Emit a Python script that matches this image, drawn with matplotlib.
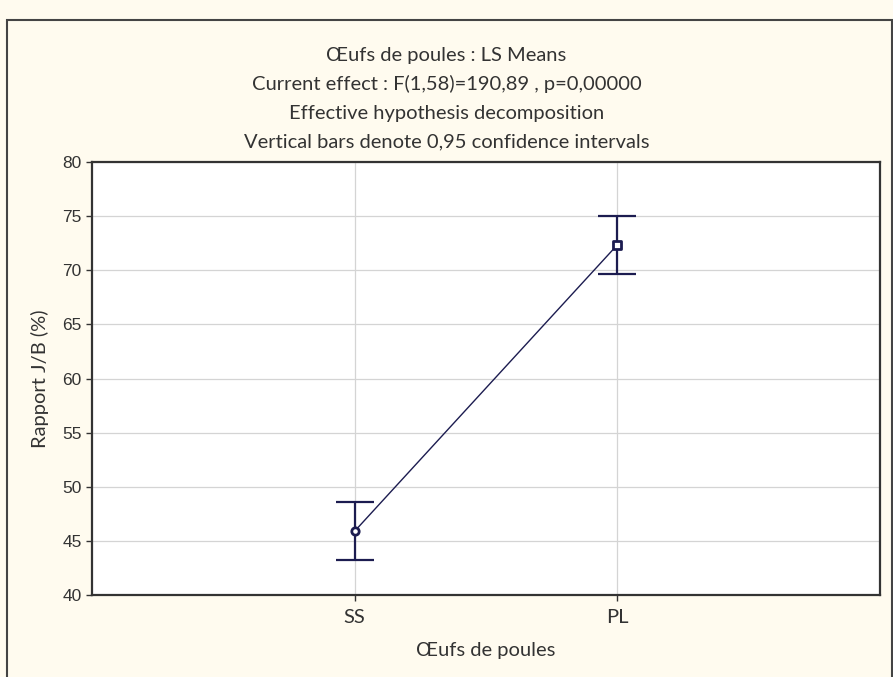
import matplotlib
matplotlib.use("Agg")
import matplotlib.pyplot as plt
from matplotlib.patches import Rectangle

# LS means with 0.95 confidence half-widths
groups = ["SS", "PL"]
means = [45.9, 72.35]
ci_half = [2.7, 2.7]
y_ticks = [40, 45, 50, 55, 60, 65, 70, 75, 80]

title_lines = [
    "Œufs de poules : LS Means",
    "Current effect : F(1,58)=190,89 , p=0,00000",
    "Effective hypothesis decomposition",
    "Vertical bars denote 0,95 confidence intervals",
]

navy = "#1c1c50"
cream = "#fffbef"
txt_font = "Lato"
txt_size = 14.5


def main():
    fig = plt.figure(figsize=(8.93, 6.77), dpi=100, facecolor=cream)
    ax = fig.add_axes([0.103, 0.1211, 0.8825, 0.6396])
    ax.set_facecolor("white")

    xs = list(range(1, len(groups) + 1))

    ax.plot(xs, means, color=navy, lw=1.0, zorder=3)
    ax.errorbar(xs, means, yerr=ci_half, fmt="none", ecolor=navy,
                elinewidth=1.6, capsize=13.5, capthick=1.6, zorder=4)
    ax.scatter(xs[0], means[0], marker="o", s=28, facecolor="white",
               edgecolor=navy, linewidth=2, zorder=5)
    ax.scatter(xs[1], means[1], marker="s", s=28, facecolor="white",
               edgecolor=navy, linewidth=2, zorder=5)

    ax.set_xlim(0, len(groups) + 1)
    ax.set_ylim(40, 80)
    ax.set_xticks(xs)
    ax.set_xticklabels(groups, fontfamily=txt_font, fontsize=txt_size,
                       color="#333333")
    ax.set_yticks(y_ticks)
    ax.set_yticklabels([str(v) for v in y_ticks], fontfamily="Liberation Sans",
                       fontsize=12.5, color="#666666")
    ax.grid(True, color="#d4d4d4", lw=0.9)
    ax.set_axisbelow(True)
    ax.tick_params(axis="both", direction="out", length=4, width=1,
                   colors="#333333")
    ax.tick_params(axis="x", pad=6)
    for sp in ax.spines.values():
        sp.set_color("#333333")
        sp.set_linewidth(1.6)

    ax.set_xlabel("Œufs de poules", fontfamily=txt_font, fontsize=txt_size,
                  color="#333333")
    ax.set_ylabel("Rapport J/B (%)", fontfamily=txt_font, fontsize=txt_size,
                  color="#333333")
    ax.xaxis.set_label_coords(0.5, -0.127)
    ax.yaxis.set_label_coords(-0.066, 0.5)
    ax.xaxis.label.set_va("center")
    ax.yaxis.label.set_va("center")

    # stacked header lines
    for i, line in enumerate(title_lines):
        fig.text(0.5, 1 - (55 + i * 29) / 677, line, ha="center", va="center",
                 fontfamily=txt_font, fontsize=txt_size, color="#333333")

    # outer frame of the graph window
    fig.patches.append(Rectangle((7 / 893, -0.05), 885 / 893, 1.05 - 20 / 677,
                                 transform=fig.transFigure, fill=False,
                                 edgecolor="#444444", lw=1.5))

    fig.savefig("out.png", dpi=100, facecolor=cream)


if __name__ == "__main__":
    main()
